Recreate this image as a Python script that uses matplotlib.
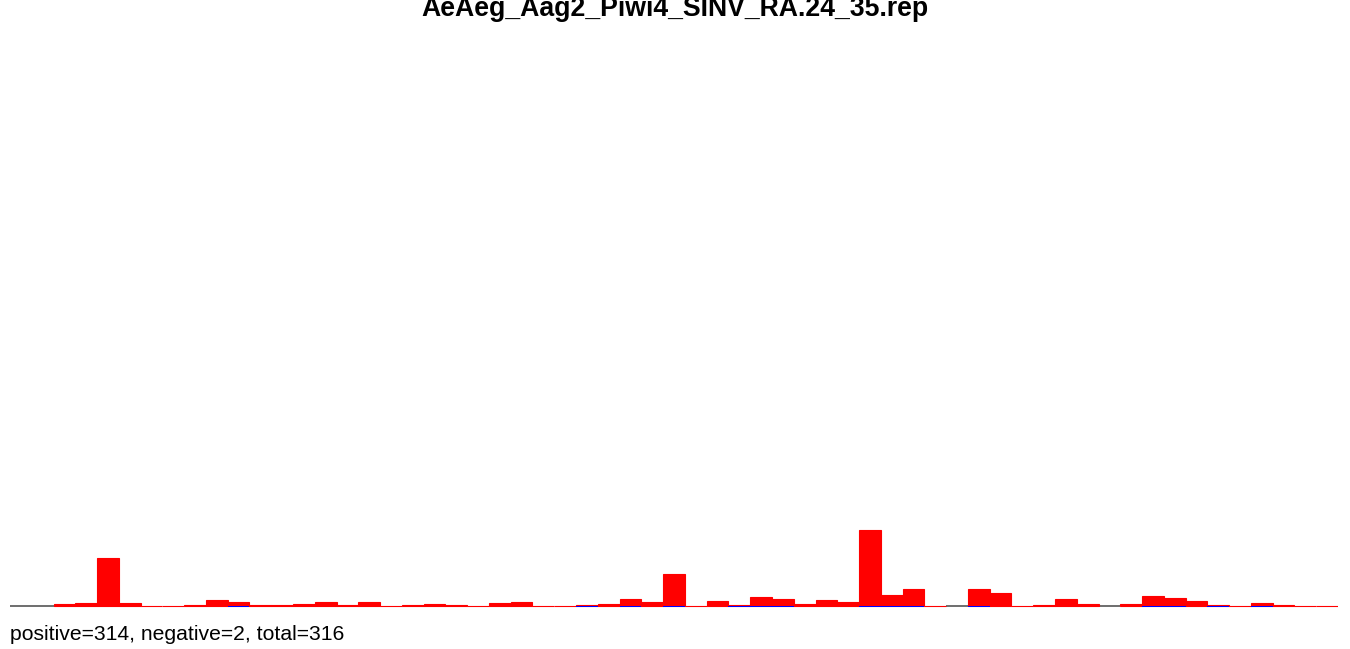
import matplotlib
matplotlib.use("Agg")
import matplotlib.pyplot as plt
import numpy as np

plt.rcParams['font.family'] = ['Liberation Sans', 'DejaVu Sans']

title = "AeAeg_Aag2_Piwi4_SINV_RA.24_35.rep"
footer = "positive=314, negative=2, total=316"

# positive (red) bar heights per slot (relative units)
positive = [np.nan, np.nan, 2, 3.3, 48, 3.3, 0, 0, 1, 6,
            4, 1, 1, 2, 4, 1, 4, 0, 1, 2,
            1, 0, 3, 4, 0, 0, 1, 2, 7, 4,
            32, 0, 5, 1, 9, 7, 2, 6, 4, 76,
            11, 17, 0, np.nan, 17, 13, 0, 1, 7, 2,
            np.nan, 2, 10, 8, 5, 1, 0, 3, 1, 0,
            0]
# negative (blue) values per slot
negative = [0, 0, 0, 0, 0, 0, 0, 0, 0, 0,
            1, 0, 0, 0, 0, 0, 0, 0, 0, 0,
            0, 0, 0, 0, 0, 0, 1, 0, 1, 0,
            1, 0, 0, 1, 1, 1, 0, 0, 0, 1,
            1, 1, 0, 0, 1, 0, 0, 0, 0, 0,
            0, 0, 1, 1, 0, 1, 0, 1, 0, 0,
            0]
# slots showing grey baseline
other = [1, 1, 1, 0, 0, 0, 0, 0, 0, 1,
         0, 0, 0, 0, 0, 0, 0, 0, 0, 0,
         0, 0, 0, 0, 0, 0, 0, 0, 0, 0,
         0, 0, 0, 0, 0, 0, 0, 0, 0, 0,
         0, 0, 0, 1, 0, 0, 0, 0, 0, 0,
         1, 0, 0, 0, 0, 0, 0, 0, 0, 0,
         0]

W, H = 1350, 649
fig = plt.figure(figsize=(W / 100, H / 100), dpi=100)

x0, x1 = 10, 1338
y_top, y_bot = 40, 610
ax = fig.add_axes([x0 / W, 1 - y_bot / H, (x1 - x0) / W, (y_bot - y_top) / H])
n = len(positive)
x = np.arange(n)
ax.set_xlim(-0.5, n - 0.5)
ax.set_ylim(-4, 566)

oth = np.array(other, dtype=float)
ax.bar(x[oth > 0], 0.0, width=1.0, bottom=0, color='#555555', edgecolor='#555555',
       linewidth=1.2, zorder=1)

pos = np.array(positive, dtype=float)
m = ~np.isnan(pos)
ax.bar(x[m], pos[m], width=1.0, color='#ff0000', edgecolor='#ff0000', linewidth=0.8, zorder=2)

neg = np.array(negative, dtype=float)
mn = neg > 0
ax.bar(x[mn], -1.3 * neg[mn], width=1.0, color='#0000ff', edgecolor='none', zorder=3)

for s in ax.spines.values():
    s.set_visible(False)
ax.set_xticks([])
ax.set_yticks([])

fig.text(675 / W, 1 - 16 / H, title, ha='center', va='baseline', fontsize=19.2,
         fontweight='bold', color='black')
fig.text(10 / W, 1 - 639.5 / H, footer, ha='left', va='baseline', fontsize=15.2, color='black')

fig.savefig("out.png", dpi=100, facecolor='white')
